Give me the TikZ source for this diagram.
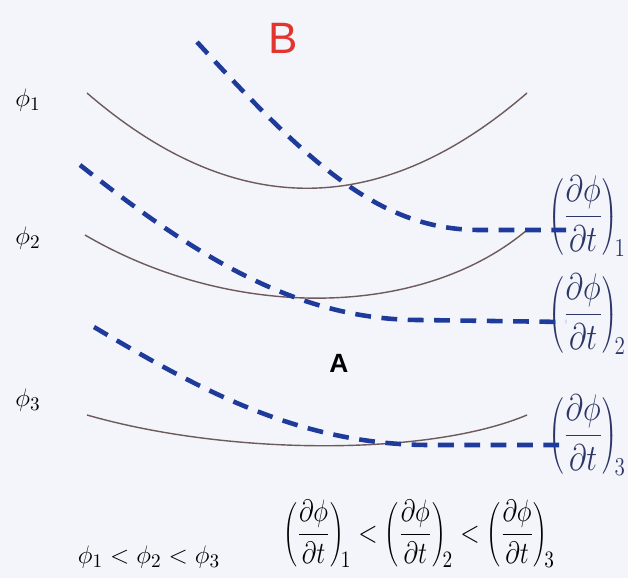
\documentclass[tikz,border=0pt]{standalone}
\usepackage{fontspec}
\setsansfont{Liberation Sans}
\definecolor{bgcol}{HTML}{F3F5FA}
\definecolor{curvecol}{HTML}{6E5A5A}
\definecolor{dashblue}{HTML}{1E3A9A}
\definecolor{bred}{HTML}{E3342F}
\definecolor{ratecol}{HTML}{2B3566}
\newcommand{\ratefrac}[1]{\left(\displaystyle\frac{\partial\phi}{\partial t}\right)_{\!#1}}
\begin{document}
\begin{tikzpicture}[x=0.02cm,y=-0.02cm,
  curve/.style={line width=0.8pt, draw=curvecol},
  dashcurve/.style={line width=2.6pt, draw=dashblue, dash pattern=on 9pt off 6pt},
  lab/.style={font=\fontsize{15}{18}\selectfont, inner sep=0pt},
  rate/.style={font=\fontsize{17.5}{21}\selectfont, text=ratecol, inner sep=0pt}]
\useasboundingbox (0,0) rectangle (628,578);
\fill[bgcol] (0,0) rectangle (628,578);
\clip (0,0) rectangle (628,578);
% labels
\node[font=\sffamily\fontsize{25}{28}\selectfont, text=bred] (B) at (283,38) {B};
\node[font=\sffamily\bfseries\fontsize{15}{18}\selectfont] (A) at (339,363) {A};
\node[lab] (p1) at (28,100) {$\phi_1$};
\node[lab] (p2) at (28,238) {$\phi_2$};
\node[lab] (p3) at (28,400) {$\phi_3$};
\node[rate] (r1) at (587,216) {\scalebox{1}[1.22]{$\ratefrac{1}$}};
\node[rate] (r2) at (587,314) {\scalebox{1}[1.22]{$\ratefrac{2}$}};
\node[rate] (r3) at (587,435) {\scalebox{1}[1.22]{$\ratefrac{3}$}};
\node[lab] (ineqphi) at (149,557) {$\phi_1<\phi_2<\phi_3$};
\node[lab, font=\fontsize{15.8}{19}\selectfont] (ineqrate) at (419,534) {\scalebox{1}[1.22]{$\ratefrac{1}<\ratefrac{2}<\ratefrac{3}$}};
% solid curves
\coordinate (c1a) at (87,93);  \coordinate (c1b) at (527,93);
\coordinate (c2a) at (85,235); \coordinate (c2b) at (527,230);
\coordinate (c3a) at (87,415); \coordinate (c3b) at (527,415);
\draw[curve] (c1a) .. controls (234,220) and (380,220) .. (c1b);
\draw[curve] (c2a) .. controls (230,320) and (420,320) .. (c2b);
\draw[curve] (c3a) .. controls (230,456) and (430,456) .. (c3b);
% dashed curves
\coordinate (d1a) at (197,42);  \coordinate (d1k) at (480,230); \coordinate (d1b) at (566,230);
\coordinate (d2a) at (80,165);  \coordinate (d2k) at (420,320); \coordinate (d2b) at (566,322);
\coordinate (d3a) at (94,327);  \coordinate (d3k) at (430,445); \coordinate (d3b) at (566,445);
\draw[dashcurve] (d1a) .. controls (310,165) and (380,230) .. (d1k) -- (d1b);
\draw[dashcurve] (d2a) .. controls (200,260) and (300,320) .. (d2k) -- (d2b);
\draw[dashcurve] (d3a) .. controls (200,390) and (300,445) .. (d3k) -- (d3b);
\end{tikzpicture}
\end{document}
